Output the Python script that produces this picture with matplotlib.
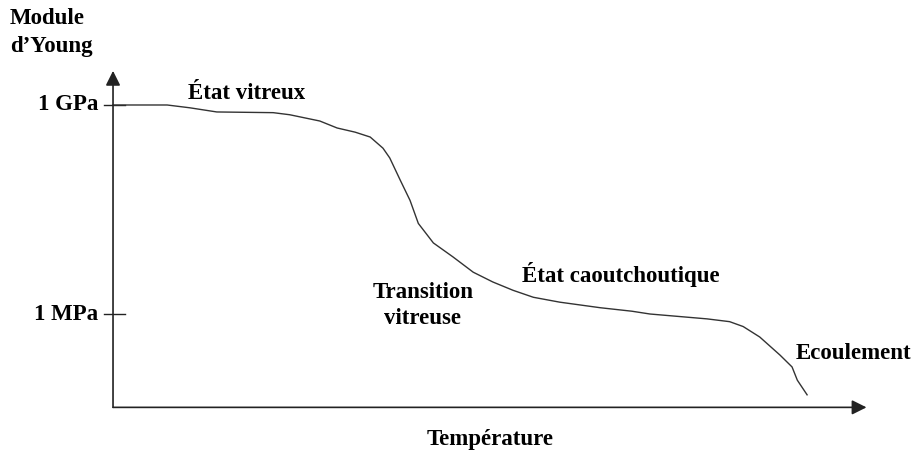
import matplotlib.pyplot as plt

# temperature (arbitrary units) and log10 of Young's modulus (Pa)
temperature = [0, 7.2, 10.2, 13.8, 21.3, 23.5, 27.5, 29.8, 32.2, 34.2, 35.9, 36.8,
               38.2, 39.5, 40.6, 42.6, 45.2, 47.9, 50.5, 53.2, 55.9, 59.4, 64.8,
               69.0, 71.4, 79.0, 82.0, 83.8, 86.0, 88.7, 90.3, 91.0, 92.3]
log_modulus = [9.0, 9.0, 8.96, 8.90, 8.89, 8.86, 8.77, 8.67, 8.61, 8.54, 8.38, 8.24,
               7.92, 7.63, 7.30, 7.02, 6.82, 6.60, 6.46, 6.34, 6.24, 6.17, 6.09,
               6.04, 6.00, 5.93, 5.89, 5.82, 5.67, 5.41, 5.24, 5.05, 4.84]

tick_values = [9, 6]
tick_labels = ["1 GPa", "1 MPa"]

fig = plt.figure(figsize=(9.12, 4.5), dpi=100)
ax = fig.add_axes([0, 0, 1, 1])
ax.set_xlim(-15.03, 106.25)
ax.set_ylim(4.048, 10.507)
ax.axis("off")

font = dict(family="Liberation Serif", weight="bold", size=16.5)
ink = "#222222"

# axes with arrow heads
y0 = 4.66
ax.annotate("", xy=(0, 9.49), xytext=(0, y0),
            arrowprops=dict(arrowstyle="-|>", mutation_scale=22, color=ink, lw=1.2,
                            shrinkA=0, shrinkB=0))
ax.annotate("", xy=(100.2, y0), xytext=(0, y0),
            arrowprops=dict(arrowstyle="-|>", mutation_scale=22, color=ink, lw=1.2,
                            shrinkA=0, shrinkB=0))

for v, lab in zip(tick_values, tick_labels):
    ax.plot([-1.2, 1.6], [v, v], color=ink, lw=1.0)
    ax.text(-2.0, v, lab, ha="right", va="center", **font)

ax.plot(temperature, log_modulus, color="#333333", lw=1.0)

ax.text(-13.7, 10.24, "Module", ha="left", va="center", **font)
ax.text(-13.7, 9.84, "d\u2019Young", ha="left", va="center", **font)
ax.text(10.0, 9.17, "État vitreux", ha="left", va="center", **font)
ax.text(41.2, 6.31, "Transition", ha="center", va="center", **font)
ax.text(41.2, 5.93, "vitreuse", ha="center", va="center", **font)
ax.text(54.4, 6.56, "État caoutchoutique", ha="left", va="center", **font)
ax.text(90.8, 5.44, "Ecoulement", ha="left", va="center", **font)
ax.text(50.2, 4.2, "Température", ha="center", va="center", **font)

fig.savefig("out.png", dpi=100)
